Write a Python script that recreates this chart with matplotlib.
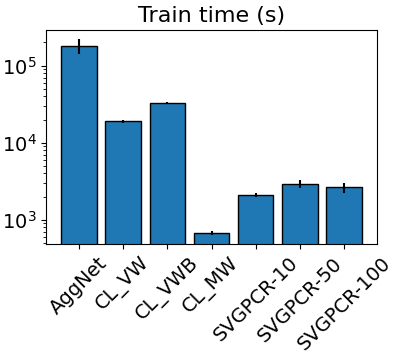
import numpy as np
import matplotlib
matplotlib.use('Agg')
import matplotlib.pyplot as plt

methods = ['AggNet', 'CL_VW', 'CL_VWB', 'CL_MW', 'SVGPCR-10', 'SVGPCR-50', 'SVGPCR-100']
train_time = [182000, 18900, 33000, 672, 2110, 2940, 2630]
train_std = [40000, 800, 1000, 40, 100, 350, 400]

fig = plt.figure(figsize=(3.98, 3.52), dpi=100)
ax = fig.add_axes([0.116, 0.307, 0.831, 0.608])

x = np.arange(len(methods))
ax.bar(x, train_time, yerr=train_std, width=0.8, color='#1f77b4',
       edgecolor='black', ecolor='black', log=True)
ax.set_yscale('log')
ax.set_ylim(488, 2.9e5)
ax.set_xticks(x)
ax.set_xticklabels(methods, rotation=45)
ax.tick_params(axis='both', labelsize=14)
ax.set_title('Train time (s)', fontsize=16)

fig.savefig('out.png', dpi=100)
